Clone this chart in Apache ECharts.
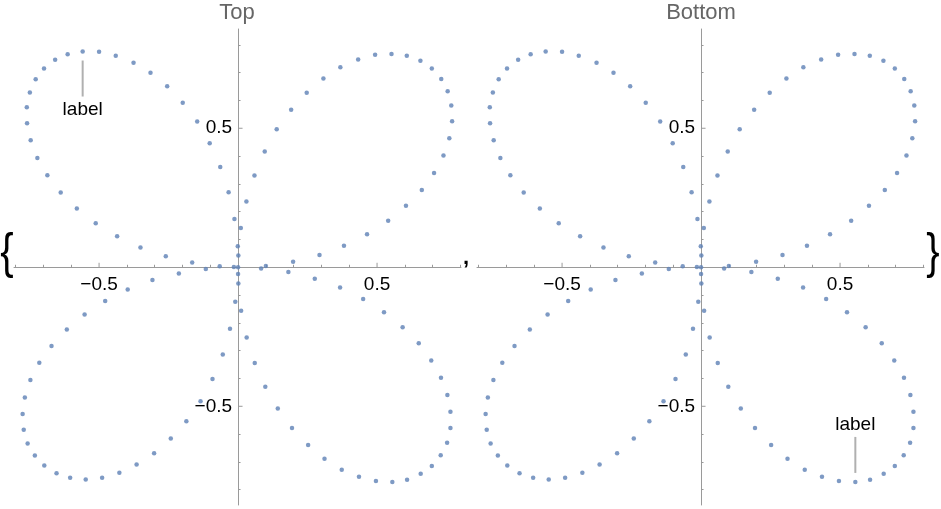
<!DOCTYPE html>
<html><head><meta charset="utf-8">
<script src="https://cdn.jsdelivr.net/npm/echarts@6/dist/echarts.min.js"></script>
<style>html,body{margin:0;padding:0;background:#fff}#c{width:941px;height:509px}</style>
</head><body><div id="c"></div>
<script>
// Point data (same set in both panels)
var petalTopRight = [[0.083,-0.004],[0.100,0.005],[0.198,0.020],[0.293,0.044],[0.381,0.077],[0.464,0.119],[0.540,0.167],[0.604,0.221],[0.661,0.278],[0.705,0.339],[0.739,0.402],[0.760,0.464],[0.770,0.525],[0.767,0.582],[0.754,0.633],[0.731,0.677],[0.697,0.715],[0.656,0.743],[0.607,0.761],[0.552,0.767],[0.493,0.764],[0.432,0.747],[0.368,0.719],[0.307,0.679],[0.247,0.628],[0.191,0.567],[0.139,0.496],[0.096,0.416],[0.059,0.330],[0.030,0.237],[0.010,0.141],[-0.001,0.076],[0.001,0.042]];
var petalTopLeft = [[-0.013,0.174],[-0.034,0.270],[-0.064,0.361],[-0.102,0.446],[-0.147,0.524],[-0.199,0.592],[-0.255,0.651],[-0.315,0.700],[-0.376,0.736],[-0.440,0.761],[-0.500,0.775],[-0.559,0.776],[-0.613,0.766],[-0.658,0.746],[-0.698,0.715],[-0.728,0.676],[-0.749,0.629],[-0.760,0.576],[-0.759,0.518],[-0.746,0.457],[-0.722,0.393],[-0.686,0.331],[-0.638,0.269],[-0.580,0.211],[-0.512,0.158],[-0.435,0.112],[-0.351,0.071],[-0.260,0.040],[-0.165,0.017],[-0.116,-0.006],[-0.066,0.004],[-0.015,0.001],[0,0]];
var petalBottomLeft = [[-0.213,-0.022],[-0.308,-0.046],[-0.397,-0.080],[-0.478,-0.121],[-0.552,-0.170],[-0.616,-0.224],[-0.671,-0.283],[-0.715,-0.343],[-0.747,-0.405],[-0.767,-0.468],[-0.775,-0.528],[-0.771,-0.584],[-0.757,-0.634],[-0.731,-0.677],[-0.697,-0.713],[-0.653,-0.741],[-0.604,-0.757],[-0.548,-0.763],[-0.489,-0.757],[-0.427,-0.739],[-0.365,-0.709],[-0.302,-0.669],[-0.242,-0.616],[-0.186,-0.554],[-0.135,-0.482],[-0.092,-0.402],[-0.055,-0.314],[-0.029,-0.221],[-0.010,-0.124],[0.001,-0.058],[0,-0.024]];
var petalBottomRight = [[0.181,-0.017],[0.276,-0.041],[0.367,-0.073],[0.450,-0.114],[0.525,-0.162],[0.592,-0.216],[0.650,-0.273],[0.695,-0.335],[0.730,-0.397],[0.753,-0.459],[0.764,-0.520],[0.764,-0.578],[0.752,-0.631],[0.729,-0.676],[0.697,-0.715],[0.657,-0.743],[0.608,-0.764],[0.555,-0.772],[0.496,-0.769],[0.435,-0.753],[0.373,-0.728],[0.311,-0.689],[0.252,-0.639],[0.194,-0.578],[0.143,-0.508],[0.098,-0.430],[0.060,-0.344],[0.031,-0.253],[0.011,-0.156]];
var panelTitles = ['Top', 'Bottom'];
var labelText = 'label';
var labelPointTop = [-0.559, 0.776];    // callout in left panel (text below the point)
var labelPointBottom = [0.555, -0.772]; // callout in right panel (text above the point)
var minorTicks = [-0.8,-0.7,-0.6,-0.4,-0.3,-0.2,-0.1,0.1,0.2,0.3,0.4,0.6,0.7,0.8];
var majorTicks = [-0.5, 0.5];

var allPoints = petalTopRight.concat(petalTopLeft, petalBottomLeft, petalBottomRight);

var chart = echarts.init(document.getElementById('c'));
var FONT = 'Liberation Sans, Arial, sans-serif';
var AX = '#9a9a9a';
var XMIN = -0.806, XMAX = 0.802, YMIN = -0.855, YMAX = 0.857;
function fmt(v){ return (v < 0 ? '\u2212' : '') + Math.abs(v); }

function xAxis(grid){
  return {type:'value', gridIndex:grid, min:XMIN, max:XMAX, position:'bottom',
    axisLine:{show:true, onZero:true, lineStyle:{color:AX, width:1}},
    axisTick:{show:true, inside:true, length:2.5, customValues:minorTicks, lineStyle:{color:AX}},
    axisLabel:{show:false}, splitLine:{show:false}};
}
function yAxis(grid){
  return {type:'value', gridIndex:grid, min:YMIN, max:YMAX, position:'left',
    axisLine:{show:true, onZero:true, lineStyle:{color:AX, width:1}},
    axisTick:{show:true, inside:true, length:2.5, customValues:minorTicks, lineStyle:{color:AX}},
    axisLabel:{show:false}, splitLine:{show:false}};
}

// major ticks (longer) and their labels at +-0.5 on both axes, placed through the axis scales
function majorTickRender(params, api){
  var v = api.value(0);
  var px = api.coord([v, 0]);
  var py = api.coord([0, v]);
  var txt = fmt(v);
  return {type:'group', children:[
    {type:'line', shape:{x1:px[0], y1:px[1], x2:px[0], y2:px[1] - 4.5}, style:{stroke:AX, lineWidth:1}},
    {type:'line', shape:{x1:py[0], y1:py[1], x2:py[0] + 4.5, y2:py[1]}, style:{stroke:AX, lineWidth:1}},
    {type:'text', x:px[0], y:px[1] + 8, style:{text:txt, fill:'#000', font:'19px ' + FONT, align:'center', verticalAlign:'top'}},
    {type:'text', x:py[0] - 6, y:py[1], style:{text:txt, fill:'#000', font:'19px ' + FONT, align:'right', verticalAlign:'middle'}}
  ]};
}

function calloutRender(params, api){
  var p = api.coord([api.value(0), api.value(1)]);
  var dir = api.value(2); // 1 = text below, -1 = text above
  return {type:'group', children:[
    {type:'line', shape:{x1:p[0], y1:p[1] + dir*9, x2:p[0], y2:p[1] + dir*45},
     style:{stroke:'#b0b0b0', lineWidth:2}},
    {type:'text', x:p[0], y:p[1] + (dir > 0 ? 58 : -57),
     style:{text:labelText, fill:'#000', font:'19px ' + FONT, align:'center', verticalAlign:'middle'}}
  ]};
}

var option = {
  animation:false,
  grid:[
    {left:14, top:29, width:447, height:476, outerBoundsMode:'none', containLabel:false},
    {left:477, top:29, width:447, height:476, outerBoundsMode:'none', containLabel:false}
  ],
  xAxis:[xAxis(0), xAxis(1)],
  yAxis:[yAxis(0), yAxis(1)],
  series:[
    {type:'scatter', xAxisIndex:0, yAxisIndex:0, data:allPoints, symbolSize:4.5, itemStyle:{color:'#5e81b5'}, silent:true},
    {type:'scatter', xAxisIndex:1, yAxisIndex:1, data:allPoints, symbolSize:4.5, itemStyle:{color:'#5e81b5'}, silent:true},
    {type:'custom', xAxisIndex:0, yAxisIndex:0, data:majorTicks.map(function(v){return [v];}), renderItem:majorTickRender, silent:true},
    {type:'custom', xAxisIndex:1, yAxisIndex:1, data:majorTicks.map(function(v){return [v];}), renderItem:majorTickRender, silent:true},
    {type:'custom', xAxisIndex:0, yAxisIndex:0, data:[[labelPointTop[0], labelPointTop[1], 1]], renderItem:calloutRender, silent:true},
    {type:'custom', xAxisIndex:1, yAxisIndex:1, data:[[labelPointBottom[0], labelPointBottom[1], -1]], renderItem:calloutRender, silent:true}
  ],
  graphic:[
    {type:'text', x:237, y:13, style:{text:panelTitles[0], fill:'#666', font:'22px ' + FONT, align:'center', verticalAlign:'middle'}},
    {type:'text', x:701, y:13, style:{text:panelTitles[1], fill:'#666', font:'22px ' + FONT, align:'center', verticalAlign:'middle'}},
    {type:'text', x:7, y:254, scaleY:1.25, style:{text:'{', fill:'#000', font:'40px ' + FONT, align:'center', verticalAlign:'middle'}},
    {type:'text', x:933, y:254, scaleY:1.25, style:{text:'}', fill:'#000', font:'40px ' + FONT, align:'center', verticalAlign:'middle'}},
    {type:'text', x:466, y:258, style:{text:',', fill:'#000', font:'bold 22px ' + FONT, align:'center', verticalAlign:'middle'}}
  ]
};
chart.setOption(option);
</script>
</body></html>
